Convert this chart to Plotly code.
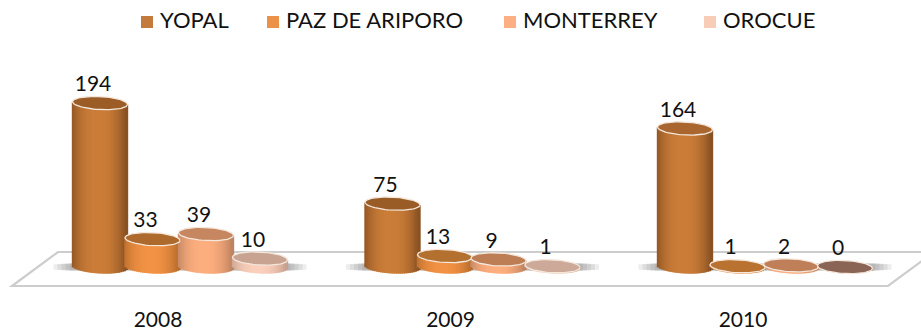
import numpy as np
import plotly.graph_objects as go

years = ["2008", "2009", "2010"]
series_names = ["YOPAL", "PAZ DE ARIPORO", "MONTERREY", "OROCUE"]
yopal = [194, 75, 164]
paz = [33, 13, 1]
monterrey = [39, 9, 2]
orocue = [10, 1, 0]
series_values = [yopal, paz, monterrey, orocue]

legend_colors = ["#C47A3A", "#EC9148", "#FBAF82", "#F8CDB8"]
side_centre = ["#CB7D38", "#F29244", "#FDAE7E", "#FAD0BC"]
side_edge = ["#8A5222", "#B76C2C", "#BE8460", "#C8A08E"]
top_colors = [
    ["#9B5C26", "#9A5C26", "#A9662E"],
    ["#AD6A2C", "#B4702F", "#B9722F"],
    ["#C58660", "#BE7E55", "#BF8059"],
    ["#C8A391", "#CCA999", "#8A6555"],
]

W, H = 921, 331
BOTTOM = 305       # pixel where the x axis sits
PX_X = 292.5       # pixels per category
PX_Y = 0.845       # pixels per value unit
X0_PX = 158        # pixel of first category label
Y0_PX = 267        # pixel of value 0
OFFS = np.array([-58, -5.5, 48, 102]) / PX_X
RX = 27.5 / PX_X
RY = 6.5 / PX_Y
TILT = -0.05 * PX_X / PX_Y  # ellipses rise slightly to the right
LEGEND_PX = [147, 273, 510, 710]
LEGEND_TEXT_GAP = 13
LEGEND_Y_PX = 22

xr = [-X0_PX / PX_X, (W - X0_PX) / PX_X]
yr = [(Y0_PX - BOTTOM) / PX_Y, Y0_PX / PX_Y]


def mix(a, b, f):
    ca = [int(a[i:i + 2], 16) for i in (1, 3, 5)]
    cb = [int(b[i:i + 2], 16) for i in (1, 3, 5)]
    return "rgb(%d,%d,%d)" % tuple(round(p + (q - p) * f) for p, q in zip(ca, cb))


def px_x(p):
    return (p - X0_PX) / PX_X


def px_y(p):
    return (Y0_PX - p) / PX_Y


fig = go.Figure()

# cylinder bodies, each cut into narrow vertical bars for the shading
N = 28
ts = (np.arange(N) + 0.5) / N * 2 - 1
for s, vals in enumerate(series_values):
    xs, hs, bs, cols, ws = [], [], [], [], []
    for g, v in enumerate(vals):
        cx = g + OFFS[s]
        for t in ts:
            arc = np.sqrt(1 - t * t)
            low = -RY * arc + TILT * t * RX
            high = v + TILT * t * RX
            xs.append(cx + t * RX)
            bs.append(low)
            hs.append(high - low)
            cols.append(mix(side_centre[s], side_edge[s], min(1, abs(t + 0.05) ** 2.4)))
            ws.append(2 * RX / N * 1.7)
    fig.add_trace(go.Bar(x=xs, y=hs, base=bs, width=ws, marker=dict(color=cols, line=dict(width=0)),
                         showlegend=False, hoverinfo="skip"))

# cylinder tops
ang = np.linspace(0, 2 * np.pi, 73)
for s, vals in enumerate(series_values):
    for g, v in enumerate(vals):
        cx = g + OFFS[s]
        ex = np.cos(ang)
        fig.add_trace(go.Scatter(
            x=cx + RX * ex, y=v + RY * np.sin(ang) + TILT * RX * ex, mode="lines", fill="toself",
            fillcolor=top_colors[s][g], line=dict(color="#F4E7DC", width=1.3),
            showlegend=False, hoverinfo="skip"))

# value labels
lab_x, lab_y, lab_t = [], [], []
for s, vals in enumerate(series_values):
    for g, v in enumerate(vals):
        lab_x.append(g + OFFS[s] - 7 / PX_X)
        lab_y.append(v + 17 / PX_Y)
        lab_t.append(str(v))
fig.add_trace(go.Scatter(x=lab_x, y=lab_y, text=lab_t, mode="text", textposition="middle center",
                         textfont=dict(family="Lato", size=21, color="#111111"),
                         cliponaxis=False, showlegend=False, hoverinfo="skip"))

# legend row, placed to match the reference's uneven spacing
for name, col, lp in zip(series_names, legend_colors, LEGEND_PX):
    fig.add_trace(go.Scatter(x=[px_x(lp)], y=[px_y(LEGEND_Y_PX)], mode="markers", name=name,
                             cliponaxis=False, marker=dict(symbol="square", size=12, color=col),
                             showlegend=False, hoverinfo="skip"))
    fig.add_trace(go.Scatter(x=[px_x(lp + LEGEND_TEXT_GAP)], y=[px_y(LEGEND_Y_PX)], mode="text", text=[name],
                             textposition="middle right", cliponaxis=False,
                             textfont=dict(family="Lato", size=22, color="#111111"),
                             showlegend=False, hoverinfo="skip"))

# floor and soft shadows
shapes = [dict(type="path", layer="below", xref="x", yref="y",
               path="M %f,%f L %f,%f L %f,%f L %f,%f Z" % (
                   px_x(12), px_y(286), px_x(58), px_y(252), px_x(934), px_y(252), px_x(888), px_y(286)),
               fillcolor="#FFFFFF", line=dict(color="#CDCDCD", width=2.2))]
for g in range(3):
    for k in range(5):
        pad = (3 + k * 4) / PX_X
        shapes.append(dict(type="rect", layer="below", xref="x", yref="y",
                           x0=g + OFFS[0] - RX - pad, x1=g + OFFS[3] + RX + pad,
                           y0=(-4 + k * 0.3) / PX_Y, y1=(4 - k * 0.3) / PX_Y,
                           fillcolor="rgba(110,110,110,0.12)", line=dict(width=0)))

fig.update_layout(
    width=W, height=H, margin=dict(l=0, r=0, t=0, b=H - BOTTOM),
    paper_bgcolor="white", plot_bgcolor="white", barmode="overlay", shapes=shapes,
    font=dict(family="Lato", color="#111111"),
    xaxis=dict(range=xr, tickmode="array", tickvals=[0, 1, 2], ticktext=years, showgrid=False,
               zeroline=False, showline=False, ticks="", fixedrange=True,
               tickfont=dict(family="Lato", size=21, color="#111111")),
    yaxis=dict(range=yr, visible=False, fixedrange=True),
    showlegend=False,
)
fig.write_html("out.html", config={"displayModeBar": False},
               post_script="document.body.style.margin='0';document.documentElement.style.overflow='hidden';")
